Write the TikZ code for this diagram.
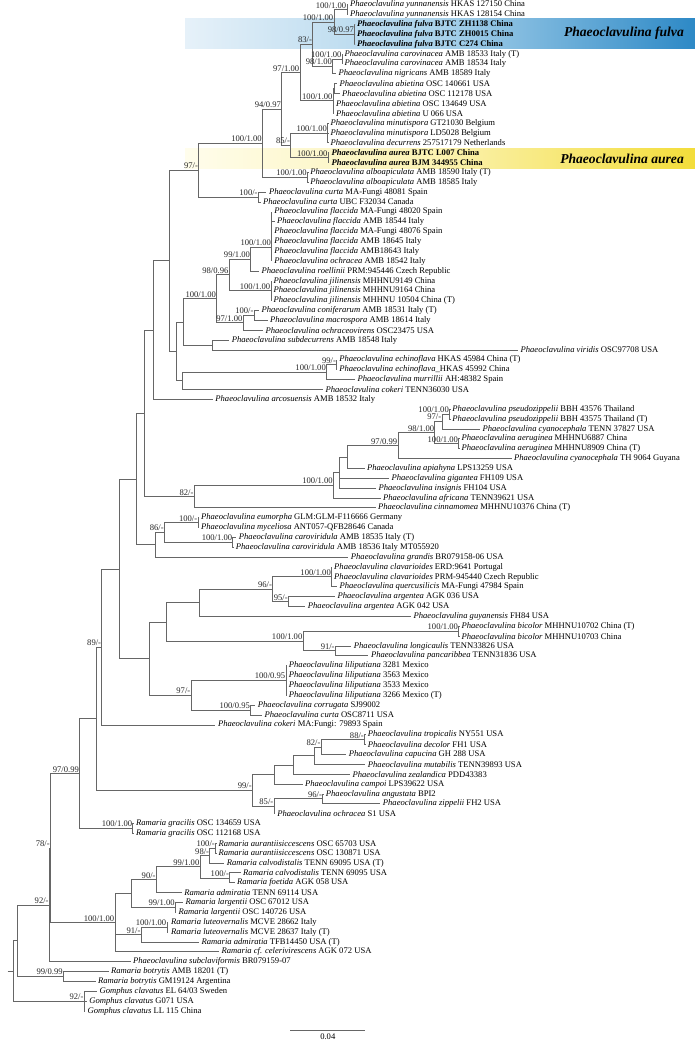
\documentclass[tikz,border=0pt]{standalone}
\usepackage{fontspec}
\setmainfont{Liberation Serif}
\definecolor{blA}{HTML}{E6F1F9}
\definecolor{blB}{HTML}{A9D2EB}
\definecolor{blC}{HTML}{2D89C6}
\definecolor{ywA}{HTML}{FFFDEC}
\definecolor{ywB}{HTML}{FBF2B0}
\definecolor{ywC}{HTML}{F3DD3A}
\newcommand\leaf[4]{\coordinate (tp#1) at (#2,{4.7+(#1-1)*9.866});\node[leaflab] (lf#1) at (tp#1) {\textit{#3} #4};}
\newcommand\leafb[4]{\coordinate (tp#1) at (#2,{4.7+(#1-1)*9.866});\node[leaflab] (lf#1) at (tp#1) {\bfseries\textit{#3} #4};}
\newcommand\bsl[2]{\node[bslab] (s-#1) at (#1) {#2};}
\begin{document}
\begin{tikzpicture}[x=1pt,y=-1pt,
  br/.style={draw=black!60,line width=0.85pt},
  leaflab/.style={anchor=west,inner sep=0pt,xshift=2.4pt,font=\fontsize{8.6}{10}\selectfont},
  bslab/.style={anchor=base east,inner sep=0pt,xshift=-0.6pt,yshift=1.6pt,font=\fontsize{8.6}{10}\selectfont,text=black!85},
  bandlab/.style={anchor=east,inner sep=0pt,font=\fontsize{13.6}{15}\selectfont\bfseries\itshape}]
\useasboundingbox (0,0) rectangle (695,1045);
% highlight bands
\shade[left color=blA,right color=blC,middle color=blB] (185,18.8) rectangle (695,48.5);
\shade[left color=ywA,right color=ywC,middle color=ywB] (185,148) rectangle (695,168);
\node[bandlab] (bandF) at (684,33.6) {Phaeoclavulina fulva};
\node[bandlab] (bandA) at (684,158.5) {Phaeoclavulina aurea};
% leaves
\leaf{1}{347.5}{Phaeoclavulina yunnanensis}{HKAS 127150 China}
\leaf{2}{347.5}{Phaeoclavulina yunnanensis}{HKAS 128154 China}
\leafb{3}{354.5}{Phaeoclavulina fulva}{BJTC ZH1138 China}
\leafb{4}{354.5}{Phaeoclavulina fulva}{BJTC ZH0015 China}
\leafb{5}{354.5}{Phaeoclavulina fulva}{BJTC C274 China}
\leaf{6}{342}{Phaeoclavulina carovinacea}{AMB 18533 Italy (T)}
\leaf{7}{342}{Phaeoclavulina carovinacea}{AMB 18534 Italy}
\leaf{8}{336}{Phaeoclavulina nigricans}{AMB 18589 Italy}
\leaf{9}{337}{Phaeoclavulina abietina}{OSC 140661 USA}
\leaf{10}{339.5}{Phaeoclavulina abietina}{OSC 112178 USA}
\leaf{11}{333.5}{Phaeoclavulina abietina}{OSC 134649 USA}
\leaf{12}{333.5}{Phaeoclavulina abietina}{U 066 USA}
\leaf{13}{328}{Phaeoclavulina minutispora}{GT21030 Belgium}
\leaf{14}{328}{Phaeoclavulina minutispora}{LD5028 Belgium}
\leaf{15}{328}{Phaeoclavulina decurrens}{257517179 Netherlands}
\leafb{16}{329}{Phaeoclavulina aurea}{BJTC L007 China}
\leafb{17}{329}{Phaeoclavulina aurea}{BJM 344955 China}
\leaf{18}{307.7}{Phaeoclavulina alboapiculata}{AMB 18590 Italy (T)}
\leaf{19}{307.7}{Phaeoclavulina alboapiculata}{AMB 18585 Italy}
\leaf{20}{266.4}{Phaeoclavulina curta}{MA-Fungi 48081 Spain}
\leaf{21}{260.5}{Phaeoclavulina curta}{UBC F32034 Canada}
\leaf{22}{271.7}{Phaeoclavulina flaccida}{MA-Fungi 48020 Spain}
\leaf{23}{274.5}{Phaeoclavulina flaccida}{AMB 18544 Italy}
\leaf{24}{271.7}{Phaeoclavulina flaccida}{MA-Fungi 48076 Spain}
\leaf{25}{271.7}{Phaeoclavulina flaccida}{AMB 18645 Italy}
\leaf{26}{271.7}{Phaeoclavulina flaccida}{AMB18643 Italy}
\leaf{27}{271.7}{Phaeoclavulina ochracea}{AMB 18542 Italy}
\leaf{28}{259}{Phaeoclavulina roellinii}{PRM:945446 Czech Republic}
\leaf{29}{271}{Phaeoclavulina jilinensis}{MHHNU9149 China}
\leaf{30}{271}{Phaeoclavulina jilinensis}{MHHNU9164 China}
\leaf{31}{271}{Phaeoclavulina jilinensis}{MHHNU 10504 China (T)}
\leaf{32}{259}{Phaeoclavulina coniferarum}{AMB 18531 Italy (T)}
\leaf{33}{267.5}{Phaeoclavulina macrospora}{AMB 18614 Italy}
\leaf{34}{263}{Phaeoclavulina ochraceovirens}{OSC23475 USA}
\leaf{35}{229.2}{Phaeoclavulina subdecurrens}{AMB 18548 Italy}
\leaf{36}{518}{Phaeoclavulina viridis}{OSC97708 USA}
\leaf{37}{336.7}{Phaeoclavulina echinoflava}{HKAS 45984 China (T)}
\coordinate (tp38) at (336.7,{4.7+37*9.866});\node[leaflab] (lf38) at (tp38) {\textit{Phaeoclavulina echinoflava}\_HKAS 45992 China};
\leaf{39}{355}{Phaeoclavulina murrillii}{AH:48382 Spain}
\leaf{40}{323}{Phaeoclavulina cokeri}{TENN36030 USA}
\leaf{41}{212.8}{Phaeoclavulina arcosuensis}{AMB 18532 Italy}
\leaf{42}{449.8}{Phaeoclavulina pseudozippelii}{BBH 43576 Thailand}
\leaf{43}{449.8}{Phaeoclavulina pseudozippelii}{BBH 43575 Thailand (T)}
\leaf{44}{480}{Phaeoclavulina cyanocephala}{TENN 37827 USA}
\leaf{45}{459}{Phaeoclavulina aeruginea}{MHHNU6887 China}
\leaf{46}{459}{Phaeoclavulina aeruginea}{MHHNU8909 China (T)}
\leaf{47}{511.5}{Phaeoclavulina cyanocephala}{TH 9064 Guyana}
\leaf{48}{364.5}{Phaeoclavulina apiahyna}{LPS13259 USA}
\leaf{49}{389}{Phaeoclavulina gigantea}{FH109 USA}
\leaf{50}{376}{Phaeoclavulina insignis}{FH104 USA}
\leaf{51}{380.5}{Phaeoclavulina africana}{TENN39621 USA}
\leaf{52}{375.5}{Phaeoclavulina cinnamomea}{MHHNU10376 China (T)}
\leaf{53}{198.5}{Phaeoclavulina eumorpha}{GLM:GLM-F116666 Germany}
\leaf{54}{198.5}{Phaeoclavulina myceliosa}{ANT057-QFB28646 Canada}
\leaf{55}{236.3}{Phaeoclavulina caroviridula}{AMB 18535 Italy (T)}
\leaf{56}{233.3}{Phaeoclavulina caroviridula}{AMB 18536 Italy MT055920}
\leaf{57}{348.3}{Phaeoclavulina grandis}{BR079158-06 USA}
\leaf{58}{331.6}{Phaeoclavulina clavarioides}{ERD:9641 Portugal}
\leaf{59}{331.6}{Phaeoclavulina clavarioides}{PRM-945440 Czech Republic}
\leaf{60}{337}{Phaeoclavulina quercusilicis}{MA-Fungi 47984 Spain}
\leaf{61}{335}{Phaeoclavulina argentea}{AGK 036 USA}
\leaf{62}{305.3}{Phaeoclavulina argentea}{AGK 042 USA}
\leaf{63}{411}{Phaeoclavulina guyanensis}{FH84 USA}
\leaf{64}{459}{Phaeoclavulina bicolor}{MHHNU10702 China (T)}
\leaf{65}{459}{Phaeoclavulina bicolor}{MHHNU10703 China}
\leaf{66}{351.3}{Phaeoclavulina longicaulis}{TENN33826 USA}
\leaf{67}{368.4}{Phaeoclavulina pancaribbea}{TENN31836 USA}
\leaf{68}{286.3}{Phaeoclavulina liliputiana}{3281 Mexico}
\leaf{69}{286.3}{Phaeoclavulina liliputiana}{3563 Mexico}
\leaf{70}{286.3}{Phaeoclavulina liliputiana}{3533 Mexico}
\leaf{71}{286.3}{Phaeoclavulina liliputiana}{3266 Mexico (T)}
\leaf{72}{255.3}{Phaeoclavulina corrugata}{SJ99002}
\leaf{73}{262}{Phaeoclavulina curta}{OSC8711 USA}
\leaf{74}{215.4}{Phaeoclavulina cokeri}{MA:Fungi: 79893 Spain}
\leaf{75}{365.3}{Phaeoclavulina tropicalis}{NY551 USA}
\leaf{76}{365.3}{Phaeoclavulina decolor}{FH1 USA}
\leaf{77}{346.3}{Phaeoclavulina capucina}{GH 288 USA}
\leaf{78}{365.3}{Phaeoclavulina mutabilis}{TENN39893 USA}
\leaf{79}{350}{Phaeoclavulina zealandica}{PDD43383}
\leaf{80}{302.5}{Phaeoclavulina campoi}{LPS39622 USA}
\leaf{81}{323.3}{Phaeoclavulina angustata}{BPI2}
\leaf{82}{380.3}{Phaeoclavulina zippelii}{FH2 USA}
\leaf{83}{274.7}{Phaeoclavulina ochracea}{S1 USA}
\leaf{84}{133.5}{Ramaria gracilis}{OSC 134659 USA}
\leaf{85}{133.5}{Ramaria gracilis}{OSC 112168 USA}
\leaf{86}{216}{Ramaria aurantiisiccescens}{OSC 65703 USA}
\leaf{87}{216}{Ramaria aurantiisiccescens}{OSC 130871 USA}
\leaf{88}{224.2}{Ramaria calvodistalis}{TENN 69095 USA (T)}
\leaf{89}{240.6}{Ramaria calvodistalis}{TENN 69095 USA}
\leaf{90}{234.5}{Ramaria foetida}{AGK 058 USA}
\leaf{91}{181.7}{Ramaria admiratia}{TENN 69114 USA}
\leaf{92}{183}{Ramaria largentii}{OSC 67012 USA}
\leaf{93}{176}{Ramaria largentii}{OSC 140726 USA}
\leaf{94}{168.4}{Ramaria luteovernalis}{MCVE 28662 Italy}
\leaf{95}{168.4}{Ramaria luteovernalis}{MCVE 28637 Italy (T)}
\leaf{96}{199}{Ramaria admiratia}{TFB14450 USA (T)}
\leaf{97}{219}{Ramaria cf. celerivirescens}{AGK 072 USA}
\leaf{98}{130.5}{Phaeoclavulina subclaviformis}{BR079159-07}
\leaf{99}{108.5}{Ramaria botrytis}{AMB 18201 (T)}
\leaf{100}{95.5}{Ramaria botrytis}{GM19124 Argentina}
\leaf{101}{97}{Gomphus clavatus}{EL 64/03 Sweden}
\leaf{102}{86.8}{Gomphus clavatus}{G071 USA}
\leaf{103}{85}{Gomphus clavatus}{LL 115 China}
% internal nodes
\coordinate (yun) at (347,9.65);
\coordinate (ful) at (354.7,34.3);
\coordinate (yf) at (334,22);
\coordinate (car) at (342.3,59);
\coordinate (cn) at (332.7,66.4);
\coordinate (b83) at (312.7,44.2);
\coordinate (abg) at (334.3,88.6);
\coordinate (abi) at (333.3,100.9);
\coordinate (d97) at (300,72.6);
\coordinate (min) at (327.7,133);
\coordinate (aur) at (328.3,157.6);
\coordinate (i85) at (290.7,145.3);
\coordinate (e94) at (281.7,109);
\coordinate (alb) at (307.5,177.4);
\coordinate (h100) at (262.5,143.2);
\coordinate (cur) at (258.4,197.1);
\coordinate (c97) at (198.7,170.2);
\coordinate (fla) at (271.7,247);
\coordinate (k99a) at (250.8,259);
\coordinate (jil) at (271,290.8);
\coordinate (k9896) at (229.2,274.9);
\coordinate (cmc) at (254.3,315.5);
\coordinate (q297) at (243.2,322.9);
\coordinate (fl100) at (216.7,298.9);
\coordinate (sv) at (212.6,345.1);
\coordinate (r2) at (183,322);
\coordinate (ech) at (336.7,364.8);
\coordinate (o100) at (326.6,372.2);
\coordinate (knn) at (182,380.9);
\coordinate (qq) at (176.6,351.5);
\coordinate (mm) at (169.1,260.9);
\coordinate (mo) at (153.5,330.1);
\coordinate (psz) at (449.6,414.1);
\coordinate (p97) at (442,421.5);
\coordinate (aer) at (458.8,443.7);
\coordinate (p98) at (434.9,432.6);
\coordinate (p0997) at (398,445.6);
\coordinate (api) at (347.5,457);
\coordinate (gi) at (339.2,472.6);
\coordinate (g100) at (333.5,485.3);
\coordinate (k82) at (194.2,496.6);
\coordinate (knp) at (144.8,413.4);
\coordinate (eum) at (198,522.6);
\coordinate (cvr) at (232.9,542.4);
\coordinate (e86) at (164.5,532.5);
\coordinate (k86) at (155,544.9);
\coordinate (knq) at (136.1,479.2);
\coordinate (cla) at (331.6,576.9);
\coordinate (arg) at (288.5,601.6);
\coordinate (k96) at (272.7,589.3);
\coordinate (gu) at (199.5,602.9);
\coordinate (bic) at (458.8,631.2);
\coordinate (k91) at (335.4,650.9);
\coordinate (bg) at (303.1,641.1);
\coordinate (k166) at (166.4,622);
\coordinate (lil) at (286,680.5);
\coordinate (ccg) at (250.7,710.2);
\coordinate (k97b) at (191.1,695.4);
\coordinate (pq) at (149.4,658.7);
\coordinate (k119) at (119,569);
\coordinate (k89) at (101.9,647);
\coordinate (td) at (364.6,739.7);
\coordinate (k82b) at (321.3,747.1);
\coordinate (k314) at (314.5,755.8);
\coordinate (k293) at (293.6,765);
\coordinate (k274) at (274.1,774.6);
\coordinate (az) at (322.7,798.9);
\coordinate (k85) at (274.1,806.3);
\coordinate (k99) at (252.5,790.5);
\coordinate (px) at (96.8,718.8);
\coordinate (gr) at (132.9,828.5);
\coordinate (ad) at (79.7,773.6);
\coordinate (au) at (215.6,848.2);
\coordinate (ab) at (209.9,855.6);
\coordinate (ac) at (229.7,878);
\coordinate (aa) at (200.1,866.8);
\coordinate (zz) at (156.4,879.7);
\coordinate (la) at (175.4,907.4);
\coordinate (yy) at (131,893.6);
\coordinate (lu) at (167,927.2);
\coordinate (ww) at (141.2,934.6);
\coordinate (vv) at (115,922.7);
\coordinate (uu) at (50.5,848.2);
\coordinate (tt) at (49.4,905);
\coordinate (bo) at (63.4,976.5);
\coordinate (ss) at (17.8,940.8);
\coordinate (go) at (84.3,1001.2);
\coordinate (root) at (13.3,971);
\coordinate (stub) at (7.6,971);
% branches
\foreach \p/\c in {yun/tp1,yun/tp2,ful/tp3,ful/tp4,ful/tp5,yf/yun,yf/ful,car/tp6,car/tp7,cn/car,cn/tp8,b83/yf,b83/cn,
 abg/tp9,abg/tp10,abi/abg,abi/tp11,abi/tp12,d97/b83,d97/abi,min/tp13,min/tp14,min/tp15,aur/tp16,aur/tp17,i85/min,i85/aur,
 e94/d97,e94/i85,alb/tp18,alb/tp19,h100/e94,h100/alb,cur/tp20,cur/tp21,c97/h100,c97/cur,
 fla/tp22,fla/tp23,fla/tp24,fla/tp25,fla/tp26,fla/tp27,k99a/fla,k99a/tp28,jil/tp29,jil/tp30,jil/tp31,k9896/k99a,k9896/jil,
 cmc/tp32,cmc/tp33,q297/cmc,q297/tp34,fl100/k9896,fl100/q297,sv/tp35,sv/tp36,r2/fl100,r2/sv,
 ech/tp37,ech/tp38,o100/ech,o100/tp39,knn/o100,knn/tp40,qq/r2,qq/knn,mm/c97,mm/qq,mo/mm,mo/tp41,
 psz/tp42,psz/tp43,p97/psz,p97/tp44,aer/tp45,aer/tp46,p98/p97,p98/aer,p0997/p98,p0997/tp47,api/p0997,api/tp48,
 gi/api,gi/tp49,gi/tp50,g100/gi,g100/tp51,k82/g100,k82/tp52,knp/mo,knp/k82,
 eum/tp53,eum/tp54,cvr/tp55,cvr/tp56,e86/eum,e86/cvr,k86/e86,k86/tp57,knq/knp,knq/k86,
 cla/tp58,cla/tp59,cla/tp60,arg/tp61,arg/tp62,k96/cla,k96/arg,gu/k96,gu/tp63,bic/tp64,bic/tp65,k91/tp66,k91/tp67,
 bg/bic,bg/k91,k166/gu,k166/bg,lil/tp68,lil/tp69,lil/tp70,lil/tp71,ccg/tp72,ccg/tp73,k97b/lil,k97b/ccg,pq/k166,pq/k97b,
 k119/knq,k119/pq,k89/k119,k89/tp74,
 td/tp75,td/tp76,k82b/td,k82b/tp77,k314/k82b,k314/tp78,k293/k314,k293/tp79,k274/k293,k274/tp80,
 az/tp81,az/tp82,k85/az,k85/tp83,k99/k274,k99/k85,px/k89,px/k99,gr/tp84,gr/tp85,ad/px,ad/gr,
 au/tp86,au/tp87,ab/au,ab/tp88,ac/tp89,ac/tp90,aa/ab,aa/ac,zz/aa,zz/tp91,la/tp92,la/tp93,yy/zz,yy/la,
 lu/tp94,lu/tp95,ww/lu,ww/tp96,vv/yy,vv/ww,vv/tp97,uu/ad,uu/vv,tt/uu,tt/tp98,bo/tp99,bo/tp100,ss/tt,ss/bo,
 go/tp101,go/tp102,go/tp103,root/ss,root/go}
 \draw[br] (\p) |- (\c);
\draw[br] (stub) -- (root);
% support values
\bsl{yun}{100/1.00}\bsl{yf}{100/1.00}\bsl{ful}{98/0.97}\bsl{b83}{83/-}\bsl{car}{100/1.00}\bsl{cn}{98/1.00}
\bsl{d97}{97/1.00}\bsl{abi}{100/1.00}\bsl{e94}{94/0.97}\bsl{i85}{85/-}\bsl{min}{100/1.00}\bsl{aur}{100/1.00}
\bsl{h100}{100/1.00}\bsl{alb}{100/1.00}\bsl{c97}{97/-}\bsl{cur}{100/-}\bsl{fla}{100/1.00}\bsl{k99a}{99/1.00}
\bsl{k9896}{98/0.96}\bsl{jil}{100/1.00}\bsl{fl100}{100/1.00}\bsl{cmc}{100/-}\bsl{q297}{97/1.00}\bsl{ech}{99/-}
\bsl{o100}{100/1.00}\bsl{psz}{100/1.00}\bsl{p97}{97/-}\bsl{p98}{98/1.00}\bsl{aer}{100/1.00}\bsl{p0997}{97/0.99}
\bsl{g100}{100/1.00}\bsl{k82}{82/-}\bsl{eum}{100/-}\bsl{e86}{86/-}\bsl{cvr}{100/1.00}\bsl{cla}{100/1.00}
\bsl{k96}{96/-}\bsl{arg}{95/-}\bsl{bic}{100/1.00}\bsl{bg}{100/1.00}\bsl{k91}{91/-}\bsl{lil}{100/0.95}
\bsl{k97b}{97/-}\bsl{ccg}{100/0.95}\bsl{k89}{89/-}\bsl{ad}{97/0.99}\bsl{td}{88/-}\bsl{k82b}{82/-}\bsl{k99}{99/-}
\bsl{az}{96/-}\bsl{k85}{85/-}\bsl{gr}{100/1.00}\bsl{uu}{78/-}\bsl{au}{100/-}\bsl{ab}{98/-}\bsl{ac}{100/-}
\bsl{aa}{99/1.00}\bsl{zz}{90/-}\bsl{la}{99/1.00}\bsl{vv}{100/1.00}\bsl{lu}{100/1.00}\bsl{ww}{91/-}\bsl{tt}{92/-}
\bsl{bo}{99/0.99}\bsl{go}{92/-}
% scale bar
\coordinate (sbA) at (290.4,1030.5);
\coordinate (sbB) at (365.2,1030.5);
\draw[br] (sbA) -- (sbB);
\node[font=\fontsize{8.6}{10}\selectfont,inner sep=0pt,anchor=north] (sbl) at (327.8,1034) {0.04};
\end{tikzpicture}
\end{document}
